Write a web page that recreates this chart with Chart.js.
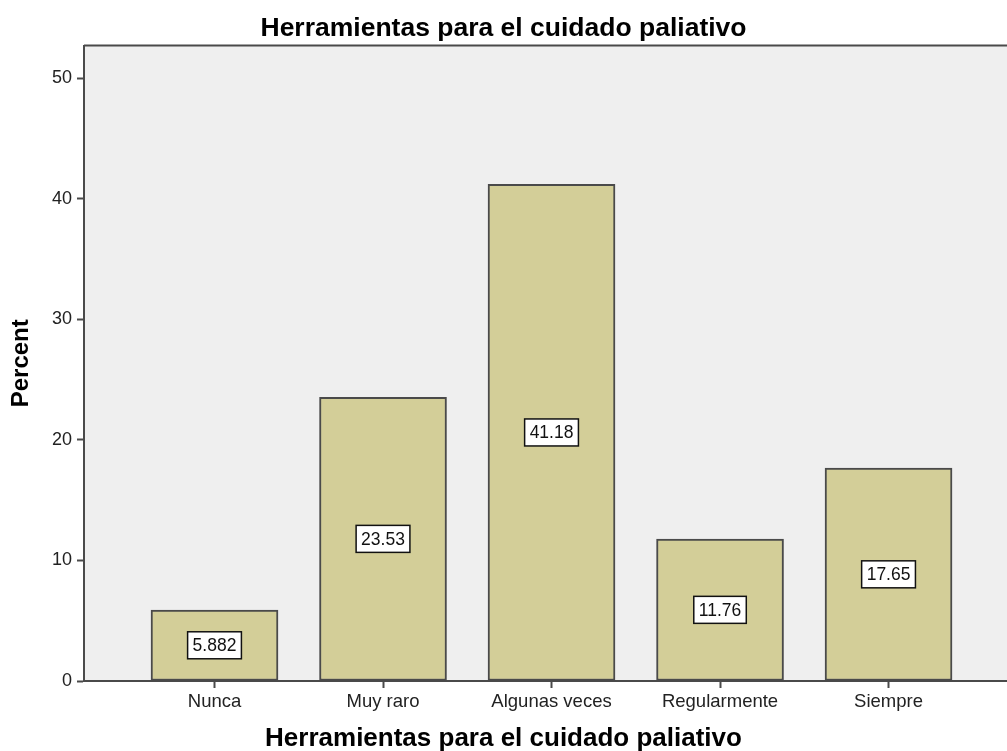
<!DOCTYPE html>
<html>
<head>
<meta charset="utf-8">
<script src="https://cdn.jsdelivr.net/npm/chart.js@4"></script>
<style>
  html, body { margin: 0; padding: 0; background: #fff; overflow: hidden; }
</style>
</head>
<body>
<canvas id="barChart" width="1007" height="751"></canvas>
<script>
// Herramientas para el cuidado paliativo - percent per answer

const categories = ['Nunca', 'Muy raro', 'Algunas veces', 'Regularmente', 'Siempre'];
const percents = [5.882, 23.53, 41.18, 11.76, 17.65];   // bar heights
const valueLabels = ['5.882', '23.53', '41.18', '11.76', '17.65'];  // text in the boxes
const yTicks = [0, 10, 20, 30, 40, 50];
const xTicks = [0, 1, 2, 3, 4];  // category positions on the x scale

const chartTitle = 'Herramientas para el cuidado paliativo';
const fontName = '"Liberation Sans", Arial, sans-serif';

// grey plot background + top frame line, value boxes in the middle of each bar
const plotFrame = {
    id: 'plotFrame',
    beforeDraw(chart) {
        const {ctx, chartArea} = chart;
        ctx.save();
        ctx.fillStyle = '#efefef';
        ctx.fillRect(chartArea.left, chartArea.top, chartArea.right - chartArea.left, chartArea.bottom - chartArea.top);
        ctx.restore();
    },
    afterDatasetsDraw(chart) {
        const {ctx, chartArea} = chart;
        ctx.save();
        ctx.strokeStyle = '#4a4a4a';
        ctx.lineWidth = 2;
        ctx.beginPath();
        ctx.moveTo(chartArea.left, chartArea.top);
        ctx.lineTo(chartArea.right, chartArea.top);
        ctx.stroke();

        // value boxes
        ctx.font = '17.5px ' + fontName;
        ctx.textAlign = 'center';
        ctx.textBaseline = 'middle';
        chart.getDatasetMeta(0).data.forEach((bar, i) => {
            const midY = (bar.y + bar.base) / 2;
            const w = ctx.measureText(valueLabels[i]).width + 10;
            const h = 27;
            ctx.fillStyle = '#ffffff';
            ctx.fillRect(bar.x - w / 2, midY - h / 2, w, h);
            ctx.strokeStyle = '#111';
            ctx.lineWidth = 1.5;
            ctx.strokeRect(bar.x - w / 2, midY - h / 2, w, h);
            ctx.fillStyle = '#111';
            ctx.fillText(valueLabels[i], bar.x, midY + 1);
        });
        ctx.restore();
    }
};

const ctx = document.getElementById('barChart');

const myChart = new Chart(ctx, {
    type: 'bar',
    data: {
        datasets: [{
            label: 'Percent',
            data: percents.map((v, i) => ({x: i, y: v})),
            backgroundColor: '#d3ce98',
            borderColor: '#4a4a4a',
            borderWidth: 2,
            borderSkipped: false,
            barThickness: 127
        }]
    },
    options: {
        responsive: false,
        devicePixelRatio: 1,
        animation: false,
        layout: { padding: 0 },
        scales: {
            x: {
                type: 'linear',
                offset: false,
                min: -0.7745,
                max: 4.703,
                afterBuildTicks: scale => { scale.ticks = xTicks.map(v => ({value: v})); },
                afterFit: scale => { scale.height = 45; },
                ticks: {
                    callback: v => categories[v],
                    font: { size: 18.5, family: fontName },
                    color: '#222',
                    padding: 3,
                    maxRotation: 0,
                    autoSkip: false
                },
                grid: {
                    offset: false,
                    drawOnChartArea: false,
                    tickLength: 7,
                    tickWidth: 2,
                    tickColor: '#4a4a4a'
                },
                border: { color: '#4a4a4a', width: 2 }
            },
            y: {
                min: 0,
                max: 52.7,
                afterBuildTicks: scale => { scale.ticks = yTicks.map(v => ({value: v})); },
                afterFit: scale => { scale.width = 84; },
                ticks: {
                    font: { size: 18, family: fontName },
                    color: '#222',
                    padding: 5
                },
                grid: {
                    drawOnChartArea: false,
                    tickLength: 7,
                    tickWidth: 2,
                    tickColor: '#4a4a4a'
                },
                border: { color: '#4a4a4a', width: 2 },
                title: {
                    display: true,
                    text: 'Percent',
                    font: { size: 24, weight: 'bold', family: fontName },
                    color: '#000',
                    padding: { top: 7, bottom: 0 }
                }
            }
        },
        plugins: {
            legend: { display: false },
            tooltip: { enabled: false },
            title: {
                display: true,
                text: chartTitle,
                font: { size: 26.5, weight: 'bold', family: fontName, lineHeight: 1 },
                color: '#000',
                padding: { top: 15, bottom: 4 }
            },
            subtitle: {            // used as the x-axis title, centred on the page like the original
                display: true,
                position: 'bottom',
                text: chartTitle,
                font: { size: 26, weight: 'bold', family: fontName, lineHeight: 1 },
                color: '#000',
                padding: { top: 0, bottom: -1 }
            }
        }
    },
    plugins: [plotFrame]
});
</script>
</body>
</html>
